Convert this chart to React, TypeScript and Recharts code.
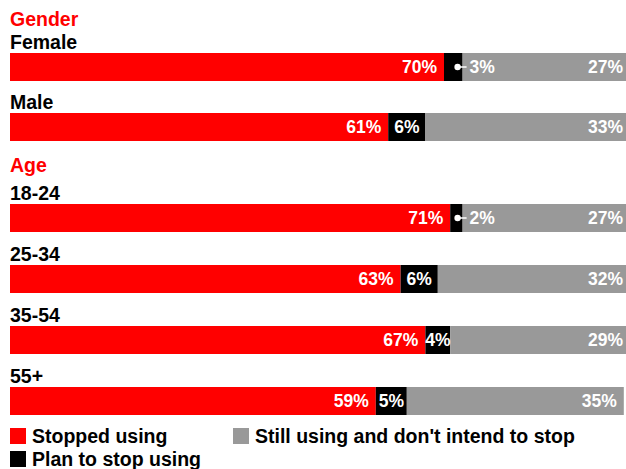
import React from 'react';
import { BarChart, Bar, XAxis, YAxis, Legend } from 'recharts';

const genderCategories = ['Female', 'Male'];
const genderStopped = [70, 61];
const genderPlan = [3, 6];
const genderStill = [27, 33];

const ageCategories = ['18-24', '25-34', '35-54', '55+'];
const ageStopped = [71, 63, 67, 59];
const agePlan = [2, 6, 4, 5];
const ageStill = [27, 32, 29, 35];

const groupTitles = ['Gender', 'Age'];
const seriesNames = ['Stopped using', 'Plan to stop using', "Still using and don't intend to stop"];
const seriesColors = ['#ff0000', '#000000', '#999999'];

const FONT = '"Liberation Sans", Arial, Helvetica, sans-serif';
const CHART_W = 630;
const PLOT_RIGHT = CHART_W;
const BAR_SIZE = 28;
const LABEL_SIZE = 19.5;
const VALUE_SIZE = 17.5;

function box(p: any) {
  const v = p.viewBox && typeof p.viewBox.width === 'number' ? p.viewBox : p;
  return { x: Number(v.x), y: Number(v.y), w: Number(v.width), h: Number(v.height) };
}

const legendPos = [
  [10, 0],
  [10, 23],
  [233, 0],
];

const renderLegend = (props: any) => {
  const payload = props.payload || [];
  return (
    <div style={{ position: 'relative', height: 50, width: 626, fontFamily: FONT }}>
      {payload.map((entry: any, k: number) => {
        const idx = seriesNames.indexOf(entry.value);
        const [left, top] = legendPos[idx >= 0 ? idx : k] || [10, 0];
        return (
          <div
            key={k}
            style={{
              position: 'absolute',
              left,
              top,
              height: 20,
              display: 'flex',
              alignItems: 'center',
              whiteSpace: 'nowrap',
            }}
          >
            <span style={{ width: 16, height: 16, background: entry.color, display: 'inline-block', marginRight: 6 }} />
            <span style={{ fontSize: LABEL_SIZE, fontWeight: 'bold', lineHeight: '20px', color: '#000' }}>{entry.value}</span>
          </div>
        );
      })}
    </div>
  );
};

type GroupProps = {
  title: string;
  titleGap: number;
  categories: string[];
  stopped: number[];
  plan: number[];
  still: number[];
  top: number;
  marginTop: number;
  rowHeight: number;
  legend?: boolean;
};

function Group({ title, titleGap, categories, stopped, plan, still, top, marginTop, rowHeight, legend }: GroupProps) {
  const data = categories.map((c, i) => ({ category: c, stopped: stopped[i], plan: plan[i], still: still[i] }));
  const legendH = legend ? 50 : 0;
  const height = marginTop + rowHeight * categories.length + legendH;

  const stoppedLabel = (p: any) => {
    const { x, y, w, h } = box(p);
    const i = p.index;
    const cy = y + h / 2;
    return (
      <g>
        {i === 0 && (
          <text x={x} y={y - titleGap} fill="#ff0000" fontSize={LABEL_SIZE} fontWeight="bold" fontFamily={FONT}>
            {title}
          </text>
        )}
        <text x={x} y={y - 4.5} fill="#000" fontSize={LABEL_SIZE} fontWeight="bold" fontFamily={FONT}>
          {categories[i]}
        </text>
        <text x={x + w - 7} y={cy + 6} textAnchor="end" fill="#fff" fontSize={VALUE_SIZE} fontWeight="bold" fontFamily={FONT}>
          {stopped[i]}%
        </text>
      </g>
    );
  };

  const planLabel = (p: any) => {
    const { x, y, w, h } = box(p);
    const i = p.index;
    const v = plan[i];
    const cy = y + h / 2;
    if (v >= 4) {
      return (
        <text x={x + w / 2} y={cy + 6} textAnchor="middle" fill="#fff" fontSize={VALUE_SIZE} fontWeight="bold" fontFamily={FONT}>
          {v}%
        </text>
      );
    }
    const end = x + w;
    return (
      <g>
        <line x1={end - 5} y1={cy} x2={end + 4} y2={cy} stroke="#fff" strokeWidth={1.5} />
        <circle cx={end - 5} cy={cy} r={3.2} fill="#fff" />
        <text x={end + 7} y={cy + 6} textAnchor="start" fill="#fff" fontSize={VALUE_SIZE} fontWeight="bold" fontFamily={FONT}>
          {v}%
        </text>
      </g>
    );
  };

  const stillLabel = (p: any) => {
    const { x, y, w, h } = box(p);
    const i = p.index;
    const cy = y + h / 2;
    const end = Math.min(x + w, PLOT_RIGHT);
    return (
      <text x={end - 7} y={cy + 6} textAnchor="end" fill="#fff" fontSize={VALUE_SIZE} fontWeight="bold" fontFamily={FONT}>
        {still[i]}%
      </text>
    );
  };

  return (
    <div style={{ position: 'absolute', left: 0, top }}>
      <BarChart
        layout="vertical"
        width={CHART_W}
        height={height}
        data={data}
        margin={{ top: marginTop, right: 0, bottom: 0, left: 10 }}
        barSize={BAR_SIZE}
      >
        <XAxis type="number" domain={[0, 100]} allowDataOverflow hide />
        <YAxis type="category" dataKey="category" hide />
        <Bar dataKey="stopped" name={seriesNames[0]} stackId="s" fill={seriesColors[0]} isAnimationActive={false} label={stoppedLabel} />
        <Bar dataKey="plan" name={seriesNames[1]} stackId="s" fill={seriesColors[1]} isAnimationActive={false} label={planLabel} />
        <Bar dataKey="still" name={seriesNames[2]} stackId="s" fill={seriesColors[2]} isAnimationActive={false} label={stillLabel} />
        {legend && (
          <Legend
            verticalAlign="bottom"
            content={renderLegend}
            wrapperStyle={{ left: 0, bottom: 5, width: 626, height: 50 }}
          />
        )}
      </BarChart>
    </div>
  );
}

export default function App() {
  return (
    <div
      style={{
        position: 'absolute',
        left: 0,
        top: 0,
        width: 626,
        height: 469,
        overflow: 'hidden',
        background: '#fff',
        fontFamily: FONT,
      }}
    >
      <Group
        title={groupTitles[0]}
        titleGap={27}
        categories={genderCategories}
        stopped={genderStopped}
        plan={genderPlan}
        still={genderStill}
        top={0}
        marginTop={37}
        rowHeight={60}
      />
      <Group
        title={groupTitles[1]}
        titleGap={32}
        categories={ageCategories}
        stopped={ageStopped}
        plan={agePlan}
        still={ageStill}
        top={140}
        marginTop={47}
        rowHeight={61}
        legend
      />
    </div>
  );
}
